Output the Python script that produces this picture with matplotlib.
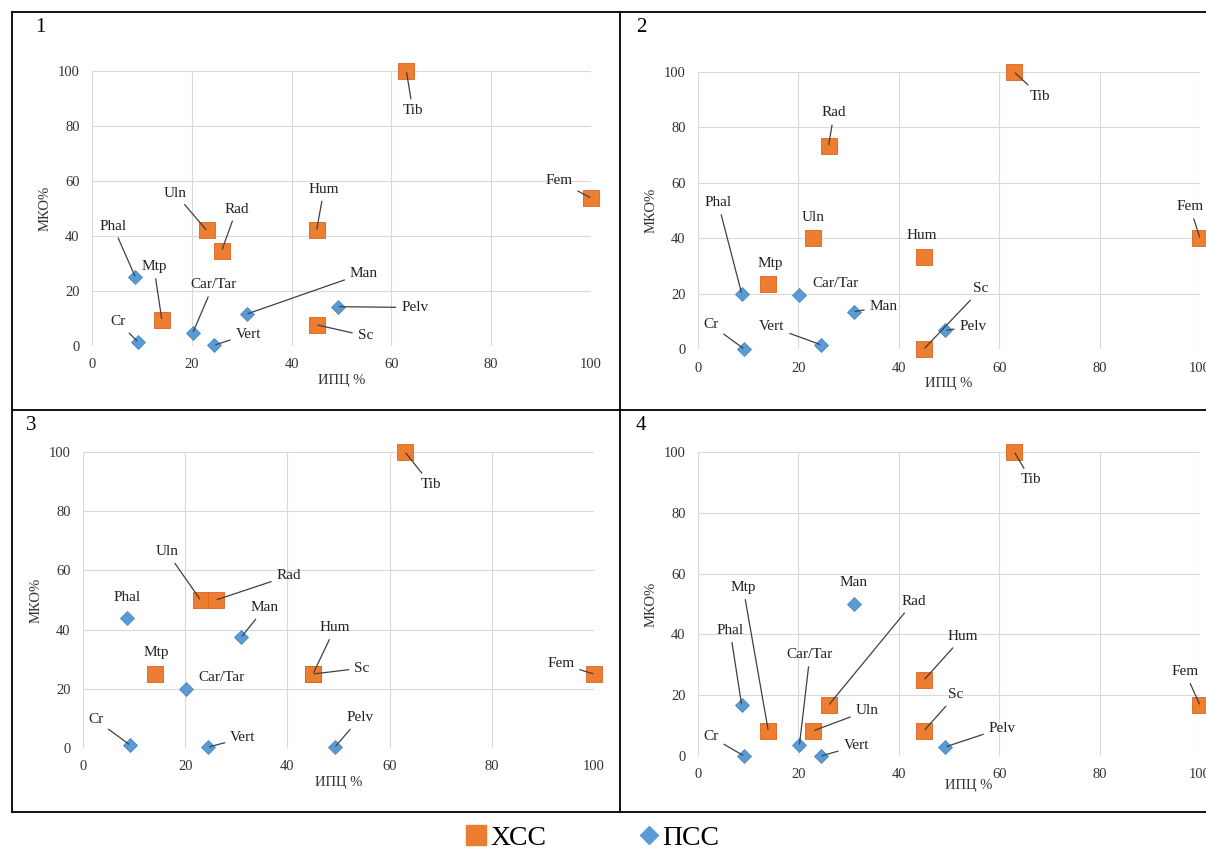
import matplotlib
matplotlib.use('Agg')
import matplotlib.pyplot as plt
from matplotlib.lines import Line2D

plt.rcParams['font.family'] = ['Liberation Serif', 'DejaVu Serif']

# shared x positions (ИПЦ %)
orange_names = ['Mtp', 'Uln', 'Rad', 'Hum', 'Sc', 'Tib', 'Fem']
orange_x = [14, 23, 26, 45, 45, 63, 100]
blue_names = ['Phal', 'Cr', 'Car/Tar', 'Vert', 'Man', 'Pelv']
blue_x = [8.7, 9.2, 20.2, 24.5, 31, 49.3]

# МКО% per panel
orange_y1 = [9.5, 42, 34.7, 42, 7.7, 100, 53.8]
blue_y1 = [25, 1.5, 4.8, 0.3, 11.6, 14.3]
orange_y2 = [23.3, 40, 73.3, 33.3, 0, 100, 40]
blue_y2 = [20, 0, 19.5, 1.5, 13.5, 6.7]
orange_y3 = [25, 50, 50, 25, 25, 100, 25]
blue_y3 = [44, 1, 20, 0.3, 37.5, 0.3]
orange_y4 = [8.3, 8.3, 16.7, 25, 8.3, 100, 16.7]
blue_y4 = [16.7, 0, 3.5, 0, 50, 3]

ticks = [0, 20, 40, 60, 80, 100]
legend_labels = ['ХСС', 'ПСС']

ORANGE = '#ED7D31'
BLUE = '#5B9BD5'

# label placement: name -> (text x, text y, draw leader line)
labels1 = {
    'Tib': (64.3, 85.5, True), 'Fem': (93.6, 60, True), 'Uln': (16.6, 55.6, True),
    'Rad': (29, 49.8, True), 'Hum': (46.5, 57, True), 'Phal': (4.2, 43.6, True),
    'Mtp': (12.4, 28.8, True), 'Car/Tar': (24.3, 22.2, True), 'Man': (54.5, 26.5, True),
    'Pelv': (64.7, 14, True), 'Sc': (54.8, 3.7, True), 'Cr': (5.2, 8.8, True),
    'Vert': (31.3, 4.3, True),
}
labels2 = {
    'Tib': (68.1, 91.3, True), 'Rad': (27.1, 85.2, True), 'Fem': (98, 51.3, True),
    'Phal': (4, 52.8, True), 'Uln': (23, 47.3, False), 'Hum': (44.6, 40.8, False),
    'Mtp': (14.3, 31, False), 'Car/Tar': (27.3, 23.5, False), 'Man': (37, 15.2, True),
    'Sc': (56.4, 21.7, True), 'Pelv': (54.8, 8.3, True), 'Cr': (2.6, 8.7, True),
    'Vert': (14.7, 8, True),
}
labels3 = {
    'Tib': (68.1, 89, True), 'Uln': (16.4, 66.3, True), 'Rad': (40.3, 58.2, True),
    'Phal': (8.6, 50.8, False), 'Man': (35.6, 47.4, True), 'Hum': (49.3, 40.6, True),
    'Mtp': (14.3, 32.1, False), 'Sc': (54.6, 27, True), 'Fem': (93.5, 28.4, True),
    'Car/Tar': (27.2, 23.7, False), 'Pelv': (54.2, 10.2, True), 'Cr': (2.5, 9.5, True),
    'Vert': (31.3, 3.4, True),
}
labels4 = {
    'Tib': (66.3, 90.8, True), 'Man': (30.9, 57.1, False), 'Mtp': (9, 55.4, True),
    'Rad': (43, 50.8, True), 'Phal': (6.4, 41.3, True), 'Hum': (52.8, 39.3, True),
    'Car/Tar': (22.3, 33.3, True), 'Fem': (97, 27.7, True), 'Sc': (51.4, 20.1, True),
    'Uln': (33.7, 14.9, True), 'Pelv': (60.6, 9.2, True), 'Cr': (2.6, 6.3, True),
    'Vert': (31.5, 3.3, True),
}

panels = [
    ('1', [92, 591, 71, 346], orange_y1, blue_y1, labels1),
    ('2', [698, 1200, 72, 349], orange_y2, blue_y2, labels2),
    ('3', [83, 594, 452, 748], orange_y3, blue_y3, labels3),
    ('4', [698, 1200, 452, 756], orange_y4, blue_y4, labels4),
]

W, H = 1206, 851
fig = plt.figure(figsize=(W / 100, H / 100), dpi=100)

for num, (l, r, t, b), oy, by, labs in panels:
    ax = fig.add_axes([l / W, 1 - b / H, (r - l) / W, (b - t) / H])
    ax.set_xlim(0, 100)
    ax.set_ylim(0, 100)
    ax.set_xticks(ticks)
    ax.set_yticks(ticks)
    ax.grid(True, color='#d9d9d9', lw=0.8)
    ax.set_axisbelow(True)
    for s in ax.spines.values():
        s.set_visible(False)
    ax.tick_params(length=0, labelsize=10.5, pad=9, labelcolor='#333333')
    ax.set_xlabel('ИПЦ %', fontsize=10.5, color='#333333', labelpad=2)
    ax.set_ylabel('МКО%', fontsize=10.5, color='#333333', labelpad=4)
    if num == '4':
        ax.xaxis.set_label_coords(0.54, -0.075)

    ax.scatter(orange_x, oy, marker='s', s=125, color=ORANGE, edgecolor='#d9651f',
               lw=0.6, zorder=3, clip_on=False)
    ax.scatter(blue_x, by, marker='D', s=50, color=BLUE, edgecolor='#4a86bd',
               lw=0.6, zorder=3, clip_on=False)

    pts = dict(zip(orange_names, zip(orange_x, oy)))
    pts.update(dict(zip(blue_names, zip(blue_x, by))))
    for name, (tx, ty, leader) in labs.items():
        props = None
        if leader:
            props = dict(arrowstyle='-', color='#404040', lw=0.9, shrinkA=2, shrinkB=1)
        ax.annotate(name, xy=pts[name], xytext=(tx, ty), textcoords='data',
                    ha='center', va='center', fontsize=11, color='#222222',
                    arrowprops=props, annotation_clip=False, zorder=4)

    nx = (l - 57) / W if num in '13' else (l - 62) / W
    ny = 1 - (t - 44) / H if num in '12' else 1 - (t - 27) / H
    fig.text(nx, ny, num, fontsize=15, ha='left', va='center')

# panel frame lines
frame = dict(color='black', lw=1.3, transform=fig.transFigure)
fig.add_artist(Line2D([12 / W, 1], [1 - 12 / H] * 2, **frame))
fig.add_artist(Line2D([12 / W, 1], [1 - 410 / H] * 2, **frame))
fig.add_artist(Line2D([12 / W, 1], [1 - 812 / H] * 2, **frame))
fig.add_artist(Line2D([12 / W] * 2, [1 - 12 / H, 1 - 812 / H], **frame))
fig.add_artist(Line2D([620 / W] * 2, [1 - 12 / H, 1 - 812 / H], **frame))

handles = [
    Line2D([], [], marker='s', ls='', color=ORANGE, markersize=14),
    Line2D([], [], marker='D', ls='', color=BLUE, markersize=9),
]
fig.legend(handles, legend_labels, loc='center', bbox_to_anchor=(0.49, 1 - 838 / H),
           ncol=2, frameon=False, fontsize=20, handletextpad=0.0, columnspacing=3.2,
           handlelength=1.0)

fig.savefig('out.png', dpi=100)
